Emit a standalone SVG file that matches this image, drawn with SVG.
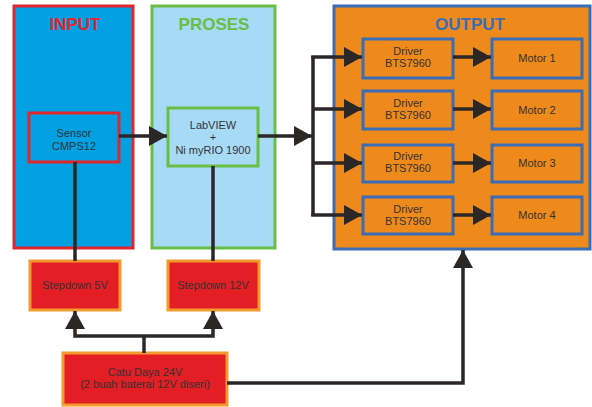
<svg xmlns="http://www.w3.org/2000/svg" width="592" height="407" viewBox="0 0 592 407">
<style>
text{font-family:"Liberation Sans",Arial,sans-serif;fill:#333;font-size:11px;text-anchor:middle}
.title{font-size:17px;font-weight:bold}
.c{fill:none;stroke:#2b2726;stroke-width:3.5}
.drv{fill:#EE8A1B;stroke:#3A6DB5;stroke-width:3}
.pwr{fill:#E31E25;stroke:#F39A2E;stroke-width:3}
</style>
<defs>
<marker id="ah" markerUnits="userSpaceOnUse" markerWidth="18" markerHeight="20" refX="18" refY="10" orient="auto">
<path d="M0,0 L18,10 L0,20 Z" fill="#2b2726"/>
</marker>
</defs>
<g id="input">
<rect x="14" y="6" width="119" height="242" fill="#00A0E3" stroke="#E3262D" stroke-width="3"/>
<text class="title" x="75" y="30" style="fill:#E3262D">INPUT</text>
</g>
<g id="proses">
<rect x="152" y="6" width="123" height="242" fill="#A7DAF4" stroke="#6ABD45" stroke-width="3"/>
<text class="title" x="214" y="30" style="fill:#6ABD45">PROSES</text>
</g>
<g id="output">
<rect x="334" y="6" width="256" height="243" fill="#EE8A1B" stroke="#3A6DB5" stroke-width="3"/>
<text class="title" x="470" y="30" style="fill:#3A6DB5">OUTPUT</text>
</g>
<g id="sensor">
<rect x="29" y="113" width="90" height="49" fill="#00A0E3" stroke="#E3262D" stroke-width="3"/>
<text x="74" y="137">Sensor</text>
<text x="74" y="150">CMPS12</text>
</g>
<g id="labview">
<rect x="168" y="108" width="90" height="58" fill="#A7DAF4" stroke="#6ABD45" stroke-width="3"/>
<text x="213" y="129">LabVIEW</text>
<text x="213" y="141">+</text>
<text x="213" y="154">Ni myRIO 1900</text>
</g>
<g id="driver1"><rect class="drv" x="363" y="39" width="90" height="39"/><text x="408" y="55">Driver</text><text x="408" y="67">BTS7960</text></g>
<g id="driver2"><rect class="drv" x="363" y="91" width="90" height="38"/><text x="408" y="107">Driver</text><text x="408" y="119">BTS7960</text></g>
<g id="driver3"><rect class="drv" x="363" y="145" width="90" height="37"/><text x="408" y="160">Driver</text><text x="408" y="172">BTS7960</text></g>
<g id="driver4"><rect class="drv" x="363" y="197" width="90" height="37"/><text x="408" y="213">Driver</text><text x="408" y="225">BTS7960</text></g>
<g id="motor1"><rect class="drv" x="492" y="39" width="90" height="39"/><text x="537" y="62">Motor 1</text></g>
<g id="motor2"><rect class="drv" x="492" y="91" width="90" height="38"/><text x="537" y="114">Motor 2</text></g>
<g id="motor3"><rect class="drv" x="492" y="145" width="90" height="37"/><text x="537" y="167">Motor 3</text></g>
<g id="motor4"><rect class="drv" x="492" y="197" width="90" height="37"/><text x="537" y="219">Motor 4</text></g>
<g id="stepdown5"><rect class="pwr" x="30" y="261" width="90" height="49"/><text x="75" y="289">Stepdown 5V</text></g>
<g id="stepdown12"><rect class="pwr" x="168" y="261" width="91" height="49"/><text x="213" y="289">Stepdown 12V</text></g>
<g id="catudaya"><rect class="pwr" x="63" y="353" width="164" height="52"/><text x="145" y="376">Catu Daya 24V</text><text x="145" y="388">(2 buah baterai 12V diseri)</text></g>
<g id="connectors">
<path class="c" d="M119,136 H167" marker-end="url(#ah)"/>
<path class="c" d="M258,136 H312" marker-end="url(#ah)"/>
<path class="c" d="M313,56 V216"/>
<path class="c" d="M311.25,57 H362" marker-end="url(#ah)"/>
<path class="c" d="M313,109 H362" marker-end="url(#ah)"/>
<path class="c" d="M313,163 H362" marker-end="url(#ah)"/>
<path class="c" d="M311.25,215 H362" marker-end="url(#ah)"/>
<path class="c" d="M453,57 H491" marker-end="url(#ah)"/>
<path class="c" d="M453,109 H491" marker-end="url(#ah)"/>
<path class="c" d="M453,163 H491" marker-end="url(#ah)"/>
<path class="c" d="M453,215 H491" marker-end="url(#ah)"/>
<path class="c" d="M75,162 V261"/>
<path class="c" d="M213,166 V261"/>
<path class="c" d="M144,353 V336"/>
<path class="c" d="M144,336 H75 V311" marker-end="url(#ah)"/>
<path class="c" d="M144,336 H213 V311" marker-end="url(#ah)"/>
<path class="c" d="M227,383 H463 V250" marker-end="url(#ah)"/>
</g>
</svg>
